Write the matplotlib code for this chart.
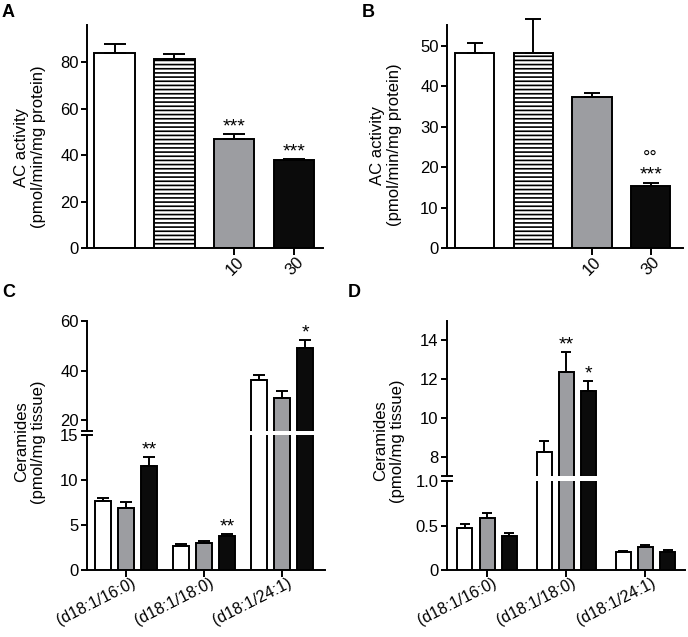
import matplotlib

matplotlib.use("Agg")
import matplotlib.pyplot as plt
import matplotlib.transforms as mtransforms
import numpy as np

plt.rcParams["font.family"] = ["Liberation Sans", "DejaVu Sans"]
plt.rcParams["hatch.linewidth"] = 1.2

W, H = 688, 637

# --- A / B: AC activity ---
ac_ticklabels = ["", "", "10", "30"]
a_mean = [84.0, 81.5, 46.8, 37.8]
a_sem = [3.7, 2.2, 2.1, 0.4]
a_stars = ["", "", "***", "***"]
b_mean = [48.3, 48.2, 37.3, 15.3]
b_sem = [2.4, 8.5, 1.1, 0.9]
b_stars = ["", "", "", "***"]
b_circles = ["", "", "", "°°"]

# --- C / D: ceramides ---
species = ["(d18:1/16:0)", "(d18:1/18:0)", "(d18:1/24:1)"]
c_white = [7.7, 2.7, 36.3]
c_white_sem = [0.35, 0.2, 2.0]
c_gray = [6.85, 2.95, 29.1]
c_gray_sem = [0.75, 0.25, 2.8]
c_black = [11.6, 3.8, 49.3]
c_black_sem = [0.95, 0.15, 3.2]
c_stars = {"black": ["**", "**", "*"]}

d_white = [0.47, 8.23, 0.204]
d_white_sem = [0.05, 0.57, 0.015]
d_gray = [0.585, 12.38, 0.26]
d_gray_sem = [0.05, 1.02, 0.02]
d_black = [0.384, 11.4, 0.2]
d_black_sem = [0.035, 0.53, 0.03]
d_stars = {"gray": ["", "**", ""], "black": ["", "*", ""]}

GRAY = "#9c9da1"
BLACK = "#0b0b0b"
LW = 1.4
FS = 12
STAR_FS = 14


def px_axes(fig, left, top, right, bottom):
    return fig.add_axes([left / W, 1 - bottom / H, (right - left) / W, (bottom - top) / H])


def style(ax, bottom=True):
    for s in ["top", "right"]:
        ax.spines[s].set_visible(False)
    ax.spines["left"].set_linewidth(LW)
    ax.spines["bottom"].set_linewidth(LW)
    if not bottom:
        ax.spines["bottom"].set_visible(False)
        ax.tick_params(axis="x", bottom=False, labelbottom=False)
    ax.tick_params(axis="y", length=4, width=LW, labelsize=FS, pad=2)
    ax.tick_params(axis="x", length=5, width=LW, labelsize=FS)


def shift_xlabels(fig, ax, dx_px):
    off = mtransforms.ScaledTranslation(dx_px / 100, 0, fig.dpi_scale_trans)
    for lab in ax.get_xticklabels():
        lab.set_transform(lab.get_transform() + off)


def stars(ax, x, top, text, dy=-1, fs=STAR_FS):
    for xi, ti, s in zip(x, top, text):
        if s:
            ax.annotate(s, xy=(xi, ti), xytext=(0, dy), textcoords="offset points",
                        ha="center", va="bottom", fontsize=fs, annotation_clip=False)


def ac_panel(ax, mean, sem, capsize):
    x = np.arange(len(mean))
    colors = ["white", "white", GRAY, BLACK]
    hatches = [None, "----", None, None]
    for xi, m, c, h in zip(x, mean, colors, hatches):
        ax.bar(xi, m, width=0.67, color=c, edgecolor="black", linewidth=LW, hatch=h, zorder=2)
    eb = ax.errorbar(x, mean, yerr=[np.zeros(len(sem)), sem], fmt="none", ecolor="black",
                     elinewidth=LW, capsize=capsize, capthick=LW, zorder=3)
    for art in eb.get_children():
        art.set_clip_on(False)
    ax.set_xticks(x[2:])
    ax.set_xticklabels(ac_ticklabels[2:], rotation=45, ha="right", va="center",
                       rotation_mode="anchor")
    return x


def cer_bars(ax, white, wsem, gray, gsem, black, bsem, off, width, capsize):
    g = np.arange(len(white))
    out = {}
    for k, (vals, err, col) in enumerate([(white, wsem, "white"), (gray, gsem, GRAY),
                                          (black, bsem, BLACK)]):
        xs = g + (k - 1) * off
        ax.bar(xs, vals, width=width, color=col, edgecolor="black", linewidth=LW, zorder=2)
        ax.errorbar(xs, vals, yerr=[np.zeros(len(err)), err], fmt="none", ecolor="black",
                    elinewidth=LW, capsize=capsize, capthick=LW, zorder=3)
        out[["white", "gray", "black"][k]] = (xs, np.array(vals) + np.array(err))
    return g, out


def break_marks(ax, y):
    ax.plot([-0.02, 0.02], [y, y], transform=ax.transAxes, color="black", lw=LW,
            clip_on=False, zorder=5)


fig = plt.figure(figsize=(W / 100, H / 100), dpi=100)

# Panel A
axA = px_axes(fig, 87, 25, 323, 248)
x = ac_panel(axA, a_mean, a_sem, 8)
axA.set_xlim(-0.46, 3.48)
axA.set_ylim(0, 96)
axA.set_yticks([0, 20, 40, 60, 80])
style(axA)
shift_xlabels(fig, axA, 7)
stars(axA, x, np.add(a_mean, a_sem), a_stars)

# Panel B
axB = px_axes(fig, 447, 25, 683, 248)
x = ac_panel(axB, b_mean, b_sem, 6)
axB.set_xlim(-0.47, 3.55)
axB.set_ylim(0, 55.2)
axB.set_yticks([0, 10, 20, 30, 40, 50])
style(axB)
shift_xlabels(fig, axB, 7)
stars(axB, x, np.add(b_mean, b_sem), b_stars)
stars(axB, x, np.add(b_mean, b_sem), b_circles, dy=11, fs=13)

# Panel C (broken axis)
cLo = px_axes(fig, 87, 435, 325, 570)
cHi = px_axes(fig, 87, 321, 325, 431)
for ax, lo in [(cLo, True), (cHi, False)]:
    g, tops = cer_bars(ax, c_white, c_white_sem, c_gray, c_gray_sem, c_black, c_black_sem,
                       0.295, 0.205, 4)
    ax.set_xlim(-0.5, 2.55)
    style(ax, bottom=lo)
cLo.set_ylim(0, 15)
cLo.set_yticks([0, 5, 10, 15])
cHi.set_ylim(15.6, 60)
cHi.set_yticks([20, 40, 60])
cLo.set_xticks(g)
cLo.set_xticklabels(species, rotation=27, ha="right", va="center", rotation_mode="anchor",
                    fontsize=11.5)
shift_xlabels(fig, cLo, 9)
xs, tp = tops["black"]
stars(cLo, xs[:2], tp[:2], c_stars["black"][:2])
stars(cHi, xs[2:], tp[2:], c_stars["black"][2:])
break_marks(cLo, 1)
break_marks(cHi, 0)

# Panel D (broken axis)
dLo = px_axes(fig, 447, 481, 685, 570)
dHi = px_axes(fig, 447, 321, 685, 476)
for ax, lo in [(dLo, True), (dHi, False)]:
    g, tops = cer_bars(ax, d_white, d_white_sem, d_gray, d_gray_sem, d_black, d_black_sem,
                       0.28, 0.19, 3.6)
    ax.set_xlim(-0.506, 2.5)
    style(ax, bottom=lo)
dLo.set_ylim(0, 1.0)
dLo.set_yticks([0, 0.5, 1.0])
dLo.set_yticklabels(["0", "0.5", "1.0"])
dHi.set_ylim(7.02, 15)
dHi.set_yticks([8, 10, 12, 14])
dLo.set_xticks(g)
dLo.set_xticklabels(species, rotation=27, ha="right", va="center", rotation_mode="anchor",
                    fontsize=11.5)
shift_xlabels(fig, dLo, 9)
for key in ["gray", "black"]:
    xs, tp = tops[key]
    stars(dHi, xs[1:2], tp[1:2], d_stars[key][1:2])
break_marks(dLo, 1)
break_marks(dHi, 0)

# y labels and panel letters
ylab_ac = "AC activity\n(pmol/min/mg protein)"
ylab_cer = "Ceramides\n(pmol/mg tissue)"
for (px, py, txt) in [(30, 147, ylab_ac), (386, 145, ylab_ac), (30, 442, ylab_cer),
                      (389, 441, ylab_cer)]:
    fig.text(px / W, 1 - py / H, txt, rotation=90, ha="center", va="center",
             multialignment="center", fontsize=FS)
for (px, py, letter) in [(2, 4, "A"), (362, 4, "B"), (2, 284, "C"), (348, 284, "D")]:
    fig.text(px / W, 1 - py / H, letter, ha="left", va="top", fontsize=13, fontweight="bold")

fig.savefig("out.png", dpi=100)
